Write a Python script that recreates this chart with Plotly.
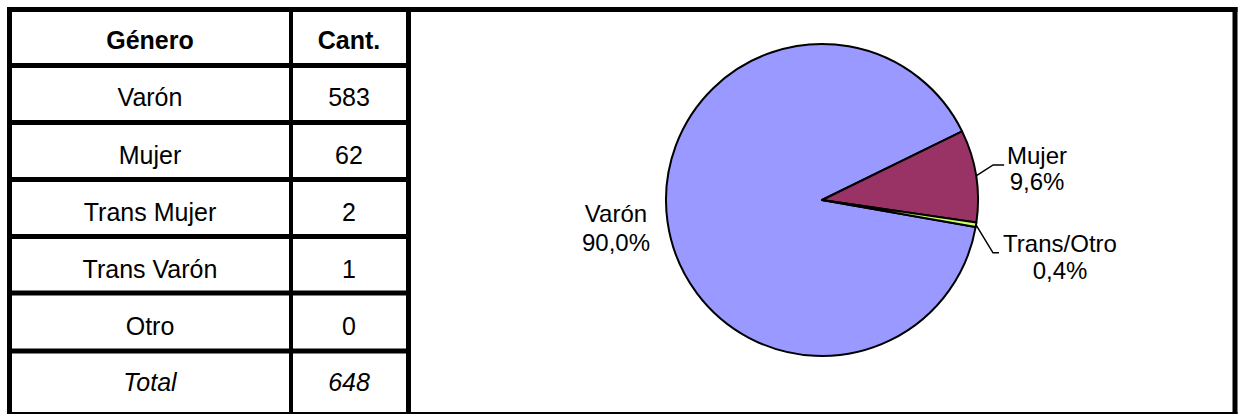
import math
import plotly.graph_objects as go

# ---------------- data ----------------
header = ["Género", "Cant."]
generos = ["Varón", "Mujer", "Trans Mujer", "Trans Varón", "Otro"]
cantidades = [583, 62, 2, 1, 0]
total_label = "Total"

pie_labels = ["Varón", "Mujer", "Trans/Otro"]
pie_values = [583, 62, 3]
pie_pct_text = ["90,0%", "9,6%", "0,4%"]
pie_colors = ["#9999FF", "#993366", "#CCFF66"]

# ---------------- layout constants (pixels) ----------------
W, H = 1238, 414
FONT = "Liberation Sans, Arial, sans-serif"
FS_TABLE = 25
FS = 24
CX, CY, R = 822, 200, 156
ROT = 100

fig = go.Figure()

# pie
fig.add_trace(go.Pie(
    labels=pie_labels, values=pie_values, sort=False, direction="clockwise",
    rotation=ROT, textinfo="none", hoverinfo="label+percent", showlegend=False,
    marker=dict(colors=pie_colors, line=dict(color="black", width=2)),
    domain=dict(x=[(CX - R) / W, (CX + R) / W], y=[1 - (CY + R) / H, 1 - (CY - R) / H]),
))

# ---------------- table text ----------------
col_x = [150, 349]
row0, step = 43, 57.2
tx, ty, tt = [], [], []
tx += col_x
ty += [row0, row0]
tt += ["<b>%s</b>" % h for h in header]
for i, (g, c) in enumerate(zip(generos, cantidades)):
    y = row0 + step * (i + 1)
    tx += col_x
    ty += [y, y]
    tt += [g, str(c)]
total_y = 385
tx += col_x
ty += [total_y, total_y]
tt += ["<i>%s</i>" % total_label, "<i>%d</i>" % sum(cantidades)]

fig.add_trace(go.Scatter(
    x=tx, y=ty, text=tt, mode="text", textposition="middle center",
    textfont=dict(family=FONT, size=FS_TABLE, color="black"),
    hoverinfo="skip", showlegend=False, cliponaxis=False,
))

# ---------------- pie labels ----------------
total = sum(pie_values)
mids = []
cum = 0
for v in pie_values:
    a0 = ROT + cum / total * 360
    cum += v
    a1 = ROT + cum / total * 360
    mids.append((a0 + a1) / 2)

def edge(angle_deg, r=R):
    a = math.radians(angle_deg)
    return CX + r * math.sin(a), CY - r * math.cos(a)

label_pos = {
    0: (616, 216, 245),
    1: (1037, 158, 184),
    2: (1060, 246, 273),
}
lx, ly, lt = [], [], []
for i, (x, y1, y2) in label_pos.items():
    lx += [x, x]
    ly += [y1, y2]
    lt += [pie_labels[i], pie_pct_text[i]]
fig.add_trace(go.Scatter(
    x=lx, y=ly, text=lt, mode="text", textposition="middle center",
    textfont=dict(family=FONT, size=FS, color="black"),
    hoverinfo="skip", showlegend=False, cliponaxis=False,
))

shapes = []
# leader lines for Mujer and Trans/Otro
for i, (dx, dy, dx2) in {1: (17, -11, 11), 2: (17, 28, 6)}.items():
    ex, ey = edge(mids[i])
    shapes.append(dict(type="path",
                       path="M %f %f L %f %f L %f %f" % (ex, ey, ex + dx, ey + dy, ex + dx + dx2, ey + dy),
                       xref="x", yref="y", line=dict(color="black", width=1.5)))

def hline(y, x0, x1, w):
    shapes.append(dict(type="line", xref="x", yref="y", x0=x0, x1=x1, y0=y, y1=y,
                       line=dict(color="black", width=w)))

def vline(x, y0, y1, w):
    shapes.append(dict(type="line", xref="x", yref="y", x0=x, x1=x, y0=y0, y1=y1,
                       line=dict(color="black", width=w)))

# outer frame
vline(9.5, 7, 414, 5)
vline(1235, 7, 414, 5)
hline(9.5, 7, 1237.5, 5)
hline(413, 7, 1237.5, 2)
# table / pie divider and column divider
vline(408.5, 7, 414, 5)
vline(291, 7, 414, 4)
# table row lines
for yl in [65.5, 122.5, 179.5, 236.5, 293, 351]:
    hline(yl, 7, 408.5, 5)

fig.update_layout(
    width=W, height=H, margin=dict(l=0, r=0, t=0, b=0),
    paper_bgcolor="white", plot_bgcolor="white",
    xaxis=dict(range=[0, W], visible=False, fixedrange=True),
    yaxis=dict(range=[H, 0], visible=False, fixedrange=True),
    shapes=shapes, showlegend=False,
)

fig.write_html(
    "out.html",
    config={"displayModeBar": False},
    post_script="document.body.style.margin='0';document.body.style.overflow='hidden';",
)
